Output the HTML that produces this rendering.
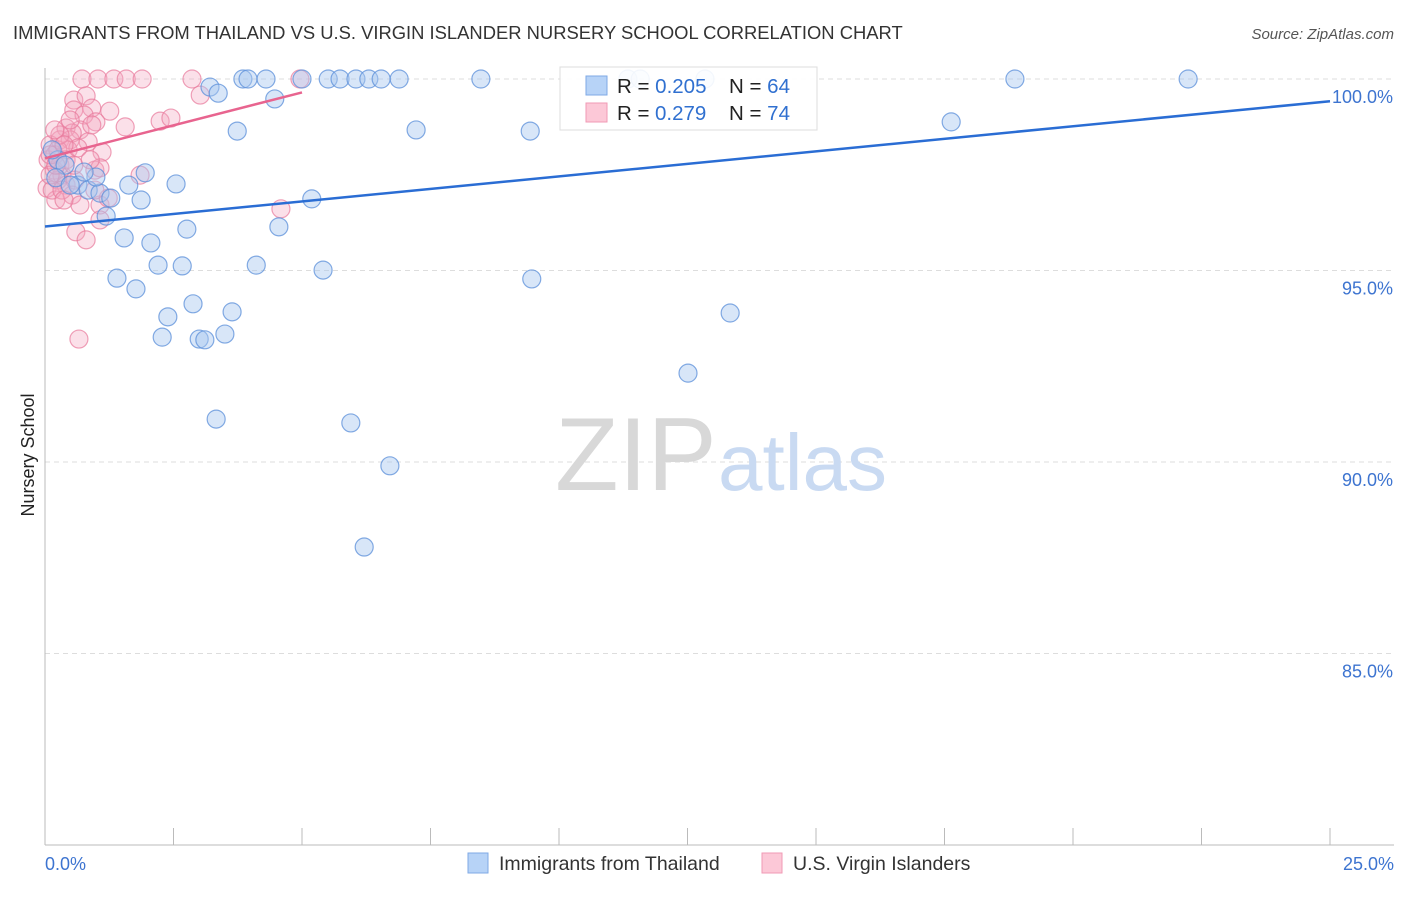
<!DOCTYPE html>
<html><head><meta charset="utf-8"><style>
body{margin:0;background:#fff;font-family:"Liberation Sans",sans-serif;}
svg text{font-family:"Liberation Sans",sans-serif;}
</style></head><body>
<svg id="chart" width="1406" height="892" viewBox="0 0 1406 892" xmlns="http://www.w3.org/2000/svg">
<text x="13" y="39" font-size="18.4" fill="#333">IMMIGRANTS FROM THAILAND VS U.S. VIRGIN ISLANDER NURSERY SCHOOL CORRELATION CHART</text>
<text x="1394" y="39" font-size="15" fill="#555" font-style="italic" text-anchor="end">Source: ZipAtlas.com</text>
<g id="grid"></g>
<g><text x="555" y="490" font-size="104" font-family="Liberation Serif,serif" fill="#d8d8d8">ZIP</text><text x="718" y="490" font-size="80" fill="#c9daf2">atlas</text></g>
<g id="axes"></g>
<text transform="translate(34,455) rotate(-90)" font-size="18" fill="#222" text-anchor="middle">Nursery School</text>
<g id="pts"></g>
<g id="lines"></g>
<g>
<rect x="560" y="67" width="257" height="63" fill="#fff" fill-opacity="0.9" stroke="#ddd"/>
<rect x="586" y="76" width="21" height="19" fill="#b7d3f7" stroke="#7fa9e6"/>
<rect x="586" y="103" width="21" height="19" fill="#fcc8d7" stroke="#f09ab4"/>
<text x="617" y="93" font-size="20.5" fill="#222">R = <tspan fill="#3070d0">0.205</tspan><tspan x="729">N = </tspan><tspan fill="#3070d0">64</tspan></text>
<text x="617" y="120" font-size="20.5" fill="#222">R = <tspan x="655" fill="#3070d0">0.279</tspan><tspan x="729">N = </tspan><tspan fill="#3070d0">74</tspan></text>
</g>
<g>
<rect x="468" y="853" width="20" height="20" fill="#b7d3f7" stroke="#7fa9e6"/>
<text x="499" y="870" font-size="19.5" fill="#333">Immigrants from Thailand</text>
<rect x="762" y="853" width="20" height="20" fill="#fcc8d7" stroke="#f09ab4"/>
<text x="793" y="870" font-size="19.5" fill="#333">U.S. Virgin Islanders</text>
</g>
</svg>
<script>
const blueX=[3.21,3.85,3.95,4.30,3.37,4.47,5.0,5.51,5.74,6.05,6.30,6.54,6.89,8.48,11.34,11.58,12.84,18.87,22.24,3.74,7.22,9.44,17.63,0.25,0.39,0.64,0.84,1.07,1.28,1.63,1.87,1.95,2.55,0.99,1.19,1.54,2.06,2.76,4.55,5.19,2.20,2.67,4.11,5.41,1.40,1.77,9.47,2.88,2.39,3.64,2.28,3.00,3.11,3.50,13.33,12.51,3.33,5.95,6.71,6.21,0.21,0.49,0.76,0.14];
const blueY=[99.79,100,100,100,99.63,99.48,100,100,100,100,100,100,100,100,100,100,100,100,100,98.64,98.67,98.64,98.88,97.89,97.75,97.23,97.10,97.02,96.89,97.23,96.84,97.55,97.26,97.44,96.42,95.85,95.72,96.08,96.14,96.87,95.14,95.12,95.14,95.01,94.80,94.52,94.78,94.13,93.79,93.92,93.26,93.21,93.19,93.34,93.89,92.32,91.12,91.02,89.90,87.78,97.42,97.23,97.57,98.15];
const pinkX=[0.72,1.03,1.34,1.58,1.89,2.86,4.96,3.02,0.56,0.80,0.56,0.91,1.26,0.76,0.41,0.68,0.99,1.56,2.24,2.45,0.29,0.49,0.10,0.18,0.33,0.06,0.19,0.29,0.45,1.11,0.53,0.84,0.25,0.41,0.58,0.97,1.07,0.04,0.21,0.53,0.68,1.07,1.23,1.85,4.59,0.60,0.80,1.07,0.66,0.14,0.33,0.10,0.25,0.41,0.56,0.91,0.49,0.29,0.64,0.88,0.37,0.97,0.19,0.10,0.21,0.37];
const pinkY=[100,100,100,100,100,100,100,99.58,99.45,99.56,99.19,99.24,99.16,99.06,98.72,98.67,98.88,98.75,98.90,98.98,98.41,98.41,98.28,97.62,97.49,97.89,98.02,97.75,98.15,98.09,98.59,98.36,97.36,97.23,97.36,97.62,97.68,97.15,96.84,96.97,96.71,96.71,96.89,97.49,96.61,96.01,95.80,96.32,93.21,97.10,97.10,97.49,98.15,97.89,97.75,98.80,98.93,98.54,98.20,97.89,96.84,97.10,98.67,98.02,97.75,98.28];
const blueLine=[[0,96.15],[25,99.42]];
const pinkLine=[[0,97.93],[5,99.65]];
const yTicks=[100,95,90,85];
const yTickLabels=["100.0%","95.0%","90.0%","85.0%"];
const xTicks=[0,2.5,5,7.5,10,12.5,15,17.5,20,22.5,25];

const NS="http://www.w3.org/2000/svg";
const sx=v=>45+v*51.4;
const sy=v=>79+(100-v)*38.3;
function mk(tag,attrs,parent){const e=document.createElementNS(NS,tag);for(const k in attrs)e.setAttribute(k,attrs[k]);parent.appendChild(e);return e;}
const grid=document.getElementById('grid'),axes=document.getElementById('axes');
yTicks.forEach((t,i)=>{
 const l=mk('line',{x1:45,x2:1394,y1:sy(t),y2:sy(t),stroke:'#ddd','stroke-dasharray':'5,4'},grid);
 
 
 const tx=mk('text',{x:1393,y:sy(t)+24,'font-size':18,fill:'#3d74d0','text-anchor':'end'},axes);
 tx.textContent=yTickLabels[i];
 
 
});
mk('line',{x1:45,x2:45,y1:68,y2:845,stroke:'#bbb'},axes);
mk('line',{x1:45,x2:1394,y1:845,y2:845,stroke:'#bbb'},axes);
xTicks.forEach(t=>{
 const l=mk('line',{x1:sx(t),x2:sx(t),y1:828,y2:845,stroke:'#bbb'},axes);
 
 
});
const x0=mk('text',{x:45,y:870,'font-size':18,fill:'#3d74d0'},axes);x0.textContent='0.0%';


const x1=mk('text',{x:1394,y:870,'font-size':18,fill:'#3d74d0','text-anchor':'end'},axes);x1.textContent='25.0%';


const pts=document.getElementById('pts');
pinkX.forEach((v,i)=>{
 const c=mk('circle',{cx:sx(v),cy:sy(pinkY[i]),r:9,fill:'#f4a7bf','fill-opacity':0.35,stroke:'#e8799b','stroke-opacity':0.7,'stroke-width':1.2},pts);
 
 
});
blueX.forEach((v,i)=>{
 const c=mk('circle',{cx:sx(v),cy:sy(blueY[i]),r:9,fill:'#a8c8f0','fill-opacity':0.45,stroke:'#5b8fd9','stroke-opacity':0.75,'stroke-width':1.2},pts);
 
 
});
const lines=document.getElementById('lines');
const bl=mk('line',{x1:sx(blueLine[0][0]),y1:sy(blueLine[0][1]),x2:sx(blueLine[1][0]),y2:sy(blueLine[1][1]),stroke:'#2a6dd4','stroke-width':2.5},lines);


const pl=mk('line',{x1:sx(pinkLine[0][0]),y1:sy(pinkLine[0][1]),x2:sx(pinkLine[1][0]),y2:sy(pinkLine[1][1]),stroke:'#e8648f','stroke-width':2.5},lines);


</script>
</body></html>
